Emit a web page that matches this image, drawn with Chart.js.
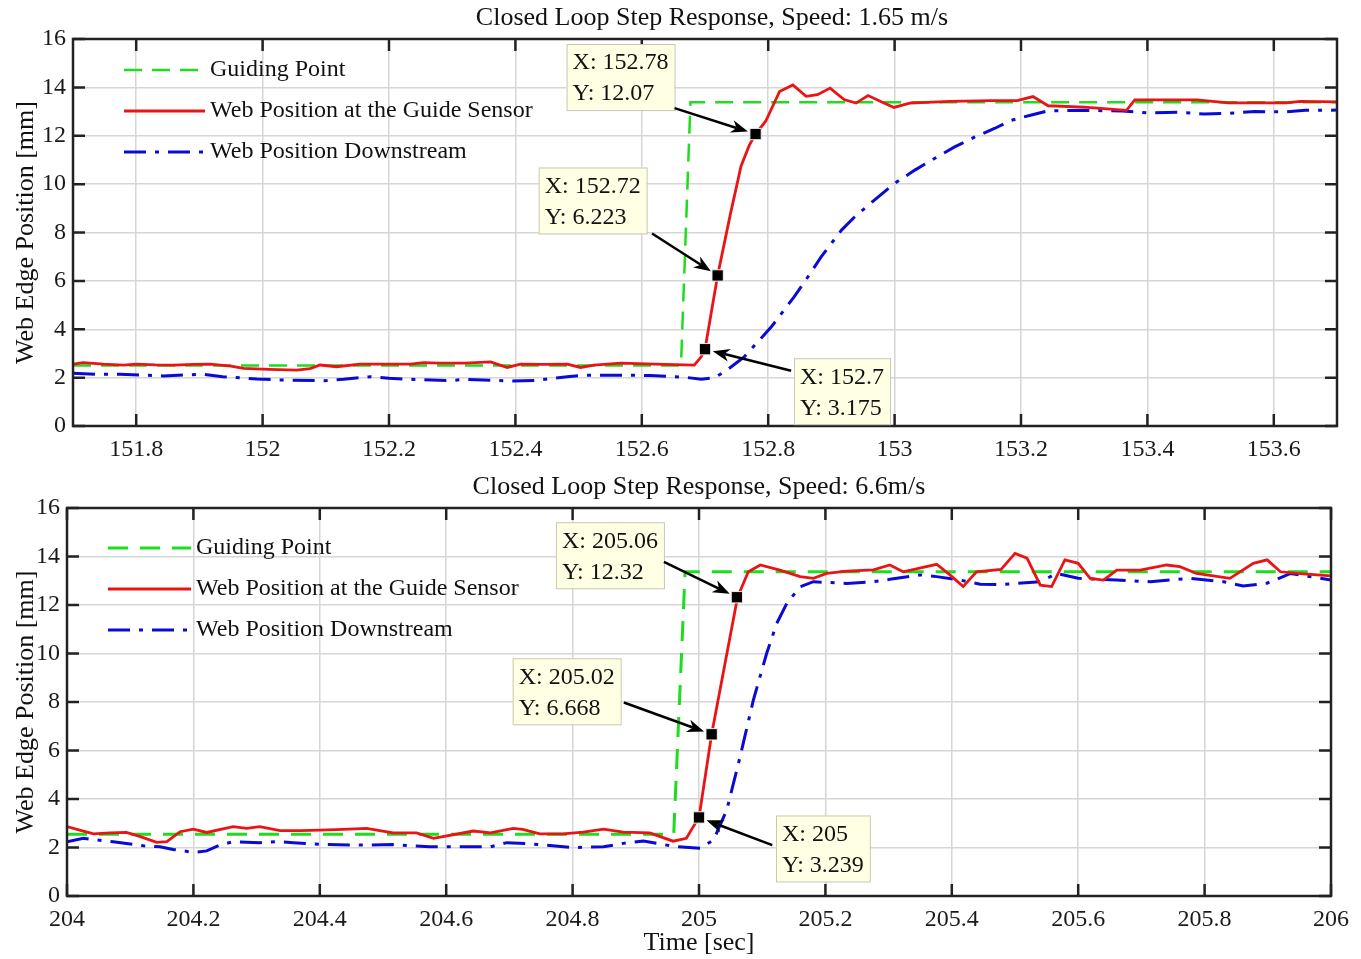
<!DOCTYPE html>
<html>
<head>
<meta charset="utf-8">
<script src="https://cdn.jsdelivr.net/npm/chart.js@4.4.1/dist/chart.umd.min.js"></script>
<style>
html, body { margin: 0; padding: 0; background: #fff; }
canvas { display: block; }
</style>
</head>
<body>
<canvas id="topChart" width="1361" height="470"></canvas>
<canvas id="bottomChart" width="1361" height="489"></canvas>
<script>
// ---- data: [time (s), position (mm)] ----
var topGuide = [[151.700,2.50],[152.662,2.50],[152.677,13.38],[153.700,13.38]];

var topSensor = [[151.700,2.56],[151.716,2.62],[151.748,2.56],[151.780,2.52],[151.800,2.56],[151.830,2.53],
  [151.860,2.52],[151.890,2.55],[151.917,2.56],[151.950,2.48],[151.970,2.38],[152.010,2.34],[152.054,2.31],
  [152.075,2.37],[152.091,2.52],[152.117,2.45],[152.154,2.56],[152.200,2.56],[152.234,2.56],[152.255,2.62],
  [152.281,2.60],[152.320,2.60],[152.361,2.65],[152.387,2.42],[152.408,2.56],[152.445,2.55],[152.482,2.56],
  [152.503,2.42],[152.524,2.52],[152.567,2.60],[152.620,2.56],[152.683,2.52],[152.694,2.86],[152.700,3.175],
  [152.710,4.70],[152.720,6.223],[152.740,8.74],[152.757,10.74],[152.770,11.60],[152.780,12.07],[152.796,12.60],
  [152.818,13.83],[152.839,14.10],[152.860,13.63],[152.878,13.70],[152.898,13.97],[152.920,13.50],[152.939,13.35],
  [152.958,13.66],[152.978,13.42],[152.999,13.17],[153.024,13.35],[153.088,13.42],[153.152,13.45],[153.194,13.45],
  [153.219,13.62],[153.243,13.24],[153.300,13.18],[153.367,13.05],[153.380,13.48],[153.478,13.48],[153.528,13.36],
  [153.620,13.36],[153.642,13.42],[153.700,13.40]];

var topDownstream = [[151.700,2.18],[151.737,2.14],[151.774,2.14],[151.817,2.10],[151.843,2.07],[151.906,2.14],
  [151.937,2.04],[151.991,1.94],[152.030,1.90],[152.097,1.87],[152.128,1.93],[152.171,2.04],[152.200,1.97],
  [152.234,1.93],[152.297,1.88],[152.323,1.93],[152.393,1.86],[152.430,1.88],[152.482,2.04],[152.513,2.10],
  [152.560,2.10],[152.614,2.09],[152.667,2.02],[152.694,1.93],[152.715,2.00],[152.731,2.24],[152.762,2.86],
  [152.805,4.10],[152.841,5.34],[152.863,6.17],[152.884,7.00],[152.916,8.10],[152.937,8.65],[152.968,9.34],
  [153.000,10.03],[153.032,10.58],[153.063,11.06],[153.095,11.54],[153.127,11.95],[153.158,12.30],[153.185,12.64],
  [153.215,12.85],[153.243,13.03],[153.300,13.05],[153.360,13.02],[153.400,12.95],[153.450,12.97],[153.490,12.90],
  [153.530,12.93],[153.570,13.00],[153.620,12.99],[153.650,13.05],[153.700,13.06]];

var topTips = [[152.78,12.07],[152.72,6.223],[152.70,3.175]];

var bottomGuide = [[204.000,2.55],[204.960,2.55],[204.978,13.37],[206.000,13.37]];

var bottomSensor = [[204.000,2.86],[204.020,2.72],[204.042,2.56],[204.068,2.60],[204.094,2.62],[204.116,2.45],
  [204.142,2.21],[204.158,2.24],[204.179,2.65],[204.200,2.76],[204.221,2.62],[204.263,2.86],[204.284,2.79],
  [204.305,2.86],[204.337,2.70],[204.369,2.70],[204.400,2.72],[204.437,2.75],[204.474,2.79],[204.516,2.60],
  [204.553,2.60],[204.580,2.38],[204.643,2.68],[204.670,2.60],[204.706,2.79],[204.721,2.75],[204.748,2.56],
  [204.785,2.56],[204.817,2.63],[204.849,2.76],[204.880,2.63],[204.922,2.60],[204.959,2.26],[204.980,2.38],
  [204.991,2.86],[205.000,3.239],[205.020,6.668],[205.061,12.32],[205.078,13.37],[205.097,13.65],[205.128,13.44],
  [205.160,13.17],[205.181,13.10],[205.202,13.30],[205.234,13.40],[205.276,13.45],[205.302,13.65],[205.323,13.37],
  [205.376,13.68],[205.397,13.24],[205.418,12.76],[205.439,13.37],[205.478,13.47],[205.500,14.13],[205.519,13.93],
  [205.540,12.82],[205.558,12.76],[205.579,13.86],[205.600,13.72],[205.619,13.10],[205.640,13.03],[205.661,13.44],
  [205.698,13.44],[205.740,13.65],[205.761,13.58],[205.787,13.30],[205.840,13.10],[205.877,13.72],[205.899,13.86],
  [205.920,13.37],[205.946,13.30],[206.000,13.20]];

var bottomDownstream = [[204.000,2.24],[204.026,2.38],[204.047,2.31],[204.073,2.24],[204.121,2.07],[204.147,2.03],
  [204.168,1.92],[204.200,1.80],[204.221,1.86],[204.242,2.10],[204.263,2.24],[204.305,2.20],[204.331,2.24],
  [204.358,2.20],[204.400,2.13],[204.463,2.10],[204.516,2.12],[204.574,2.03],[204.670,2.03],[204.696,2.20],
  [204.733,2.15],[204.801,2.00],[204.849,2.03],[204.880,2.17],[204.912,2.27],[204.959,2.05],[205.002,1.97],
  [205.023,2.31],[205.044,3.55],[205.065,5.74],[205.086,8.08],[205.107,10.00],[205.123,11.24],[205.139,12.07],
  [205.160,12.75],[205.181,12.96],[205.234,12.89],[205.276,12.96],[205.302,13.06],[205.350,13.24],[205.376,13.17],
  [205.413,13.03],[205.445,12.86],[205.476,12.84],[205.540,12.96],[205.566,13.30],[205.600,13.10],[205.660,13.03],
  [205.714,12.96],[205.777,13.10],[205.830,12.96],[205.861,12.78],[205.899,12.90],[205.936,13.30],[206.000,13.03]];

var bottomTips = [[205.06,12.32],[205.02,6.668],[205.00,3.239]];

var topXTicks = [151.8,152,152.2,152.4,152.6,152.8,153,153.2,153.4,153.6];
var bottomXTicks = [204,204.2,204.4,204.6,204.8,205,205.2,205.4,205.6,205.8,206];
var yTicks = [0,2,4,6,8,10,12,14,16];

var legendNames = ['Guiding Point', 'Web Position at the Guide Sensor', 'Web Position Downstream'];

// ---- layout of the data tip boxes (pixel offset of box from the marker, arrow anchor on box) ----
var topTipBoxes = [{dx:-189, dy:-90, ax:1.0, ay:0.97}, {dx:-179, dy:-108, ax:1.05, ay:1.0}, {dx:89, dy:9, ax:-0.03, ay:0.19}];
var bottomTipBoxes = [{dx:-181, dy:-75, ax:1.0, ay:0.6}, {dx:-199, dy:-76, ax:1.03, ay:0.67}, {dx:77, dy:-2, ax:-0.04, ay:0.45}];

var FONT = "'Liberation Serif', 'Times New Roman', serif";
var GREEN = 'rgb(30,220,30)';
var RED = 'rgb(235,20,20)';
var BLUE = 'rgb(10,10,215)';
var GRID = 'rgb(214,214,214)';

function toXY(pairs) {
  return pairs.map(function(p){ return {x: p[0], y: p[1]}; });
}

function overlay(s) {
  return {
    id: 'overlay',
    afterDraw: function(chart) {
      var ctx = chart.ctx, a = chart.chartArea, xs = chart.scales.x, ys = chart.scales.y;
      ctx.save();

      // frame with inward ticks
      ctx.strokeStyle = '#222';
      ctx.lineWidth = 2.5;
      ctx.strokeRect(a.left, a.top, a.right - a.left, a.bottom - a.top);
      ctx.beginPath();
      s.xTicks.forEach(function(t){
        var px = xs.getPixelForValue(t);
        ctx.moveTo(px, a.bottom); ctx.lineTo(px, a.bottom - 12);
        ctx.moveTo(px, a.top); ctx.lineTo(px, a.top + 12);
      });
      yTicks.forEach(function(t){
        var py = ys.getPixelForValue(t);
        ctx.moveTo(a.left, py); ctx.lineTo(a.left + 12, py);
        ctx.moveTo(a.right, py); ctx.lineTo(a.right - 12, py);
      });
      ctx.stroke();

      // legend inside the axes
      var order = [3, 1, 2];
      ctx.font = '24px ' + FONT;
      ctx.textBaseline = 'middle';
      ctx.textAlign = 'left';
      order.forEach(function(di, i){
        var ds = chart.data.datasets[di];
        var y = a.top + s.legTop + i * 41;
        ctx.strokeStyle = ds.borderColor;
        ctx.lineWidth = ds.borderWidth;
        ctx.setLineDash(ds.borderDash || []);
        ctx.beginPath();
        ctx.moveTo(a.left + s.legX, y);
        ctx.lineTo(a.left + s.legX + s.legLen, y);
        ctx.stroke();
        ctx.setLineDash([]);
        ctx.fillStyle = '#111';
        ctx.fillText(legendNames[i], a.left + s.legText, y);
      });

      // data tips
      s.tips.forEach(function(p, i){
        var box = s.boxes[i];
        var mx = xs.getPixelForValue(p[0]), my = ys.getPixelForValue(p[1]);
        var l1 = 'X: ' + p[0], l2 = 'Y: ' + p[1];
        var w = Math.max(ctx.measureText(l1).width, ctx.measureText(l2).width) + 12;
        var h = 66;
        var bx = mx + box.dx, by = my + box.dy;
        ctx.fillStyle = 'rgb(255,255,228)';
        ctx.fillRect(bx, by, w, h);
        ctx.strokeStyle = 'rgb(200,200,180)';
        ctx.lineWidth = 1;
        ctx.strokeRect(bx + 0.5, by + 0.5, w, h);
        ctx.fillStyle = '#111';
        ctx.fillText(l1, bx + 6, by + 19);
        ctx.fillText(l2, bx + 6, by + 50);
        // arrow
        var tx = bx + box.ax * w, ty = by + box.ay * h;
        var vx = mx - tx, vy = my - ty, len = Math.sqrt(vx * vx + vy * vy);
        var ux = vx / len, uy = vy / len;
        var hx = mx - ux * 8, hy = my - uy * 8;
        ctx.strokeStyle = '#000';
        ctx.fillStyle = '#000';
        ctx.lineWidth = 2.5;
        ctx.beginPath();
        ctx.moveTo(tx, ty);
        ctx.lineTo(hx - ux * 12, hy - uy * 12);
        ctx.stroke();
        ctx.beginPath();
        ctx.moveTo(hx, hy);
        ctx.lineTo(hx - ux * 17 - uy * 6.5, hy - uy * 17 + ux * 6.5);
        ctx.lineTo(hx - ux * 12, hy - uy * 12);
        ctx.lineTo(hx - ux * 17 + uy * 6.5, hy - uy * 17 - ux * 6.5);
        ctx.closePath();
        ctx.fill();
      });

      // titles
      ctx.fillStyle = '#111';
      ctx.font = '26px ' + FONT;
      ctx.textAlign = 'center';
      ctx.fillText(s.title, (a.left + a.right) / 2 + s.titleShift, a.top - 21);
      if (s.xTitle) ctx.fillText(s.xTitle, (a.left + a.right) / 2, a.bottom + 47);
      ctx.translate(26, (a.top + a.bottom) / 2);
      ctx.rotate(-Math.PI / 2);
      ctx.fillText('Web Edge Position [mm]', 0, 0);

      ctx.restore();
    }
  };
}

function buildChart(id, s) {
  return new Chart(document.getElementById(id), {
    type: 'line',
    data: {
      datasets: [
        { label: 'tips', data: toXY(s.tips), showLine: false, pointStyle: 'rect', pointRadius: 8,
          pointBackgroundColor: '#000', pointBorderColor: '#eeeeee', pointBorderWidth: 1 },
        { label: legendNames[1], data: toXY(s.red), borderColor: RED, borderWidth: 2.8, pointRadius: 0 },
        { label: legendNames[2], data: toXY(s.blue), borderColor: BLUE, borderWidth: 3,
          borderDash: [22, 9, 4, 9], pointRadius: 0 },
        { label: legendNames[0], data: toXY(s.green), borderColor: GREEN, borderWidth: s.greenWidth,
          borderDash: s.greenDash, pointRadius: 0 }
      ]
    },
    options: {
      responsive: false,
      animation: false,
      events: [],
      layout: { padding: { top: s.padTop, right: s.padRight, left: 0, bottom: 0 } },
      plugins: { legend: { display: false }, tooltip: { enabled: false }, title: { display: false } },
      scales: {
        x: {
          type: 'linear', min: s.xMin, max: s.xMax,
          afterBuildTicks: function(sc){ sc.ticks = s.xTicks.map(function(v){ return {value: v}; }); },
          afterFit: function(sc){ sc.height = s.xHeight; },
          grid: { color: GRID, lineWidth: 1.5, drawTicks: false },
          border: { display: false },
          ticks: { autoSkip: false, maxRotation: 0, padding: 9, color: '#1a1a1a',
                   font: { family: FONT, size: 24 },
                   callback: function(v){ return String(+v.toFixed(2)); } }
        },
        y: {
          type: 'linear', min: 0, max: 16,
          afterBuildTicks: function(sc){ sc.ticks = yTicks.map(function(v){ return {value: v}; }); },
          afterFit: function(sc){ sc.width = s.yWidth; },
          grid: { color: GRID, lineWidth: 1.5, drawTicks: false },
          border: { display: false },
          ticks: { padding: 7, color: '#1a1a1a', font: { family: FONT, size: 24 } }
        }
      }
    },
    plugins: [overlay(s)]
  });
}

buildChart('topChart', {
  green: topGuide, red: topSensor, blue: topDownstream, tips: topTips, boxes: topTipBoxes,
  xMin: 151.7, xMax: 153.7, xTicks: topXTicks,
  padTop: 39, padRight: 24, yWidth: 73, xHeight: 44,
  greenWidth: 2.5, greenDash: [18, 10],
  legTop: 31, legX: 51, legLen: 81, legText: 137,
  title: 'Closed Loop Step Response, Speed: 1.65 m/s', titleShift: 7, xTitle: null
});

buildChart('bottomChart', {
  green: bottomGuide, red: bottomSensor, blue: bottomDownstream, tips: bottomTips, boxes: bottomTipBoxes,
  xMin: 204, xMax: 206, xTicks: bottomXTicks,
  padTop: 38, padRight: 30, yWidth: 67, xHeight: 63,
  greenWidth: 3, greenDash: [20, 12],
  legTop: 40, legX: 41, legLen: 83, legText: 129,
  title: 'Closed Loop Step Response, Speed: 6.6m/s', titleShift: 0, xTitle: 'Time [sec]'
});
</script>
</body>
</html>
